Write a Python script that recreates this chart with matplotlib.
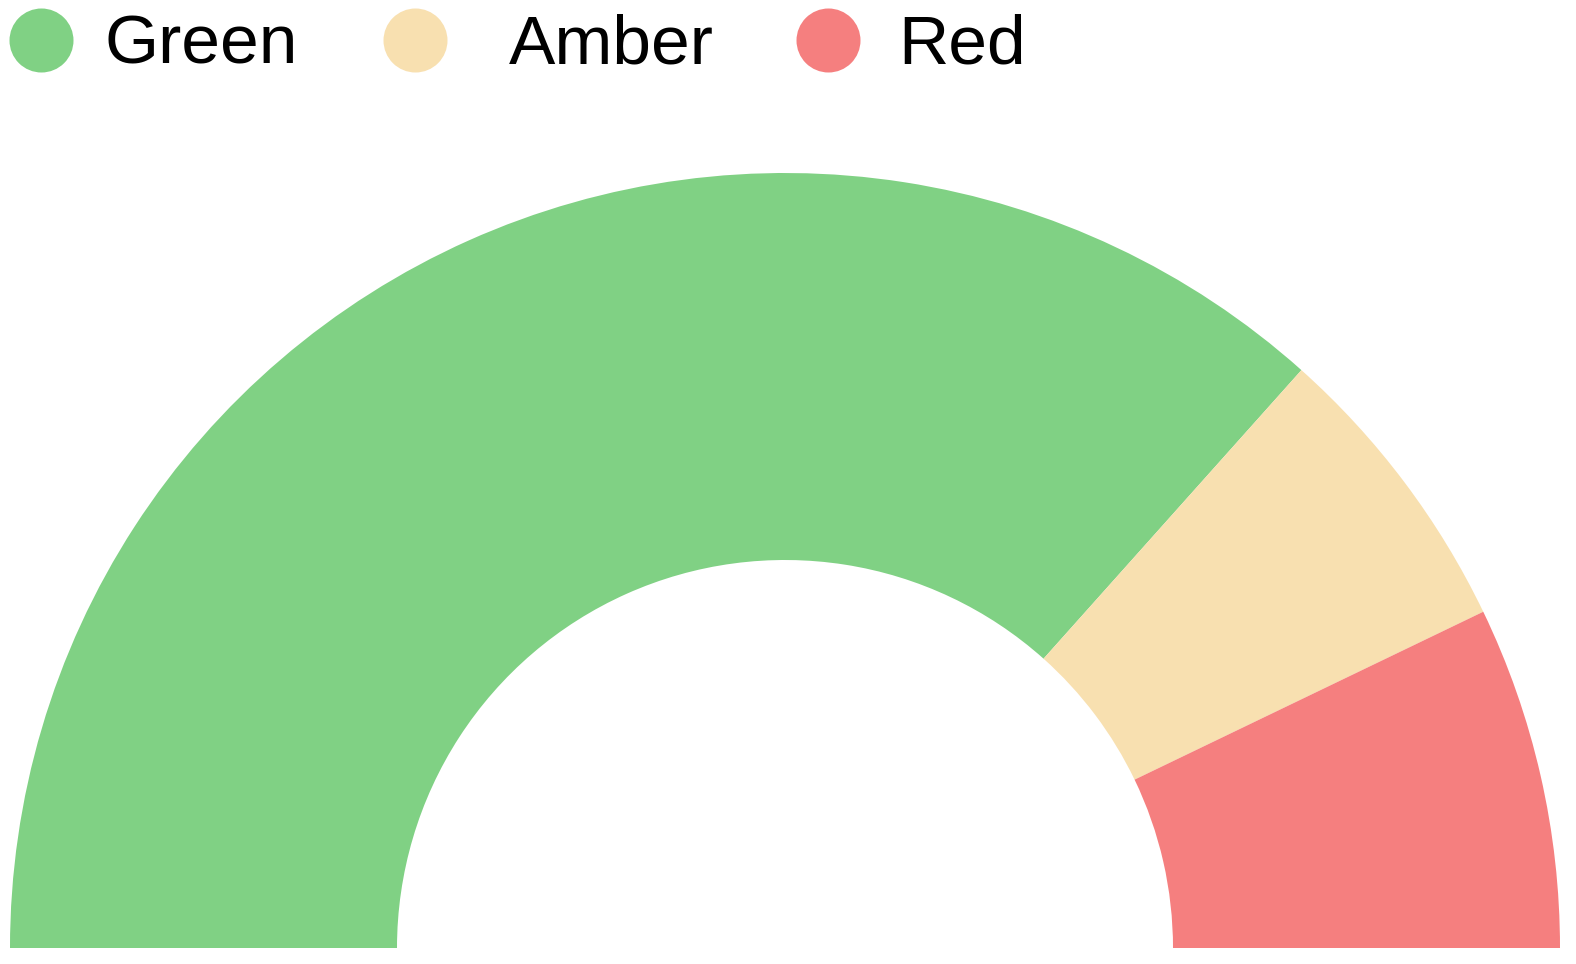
import matplotlib
matplotlib.use("Agg")
import matplotlib.pyplot as plt

# RAG status split (half donut)
labels = ["Green", "Amber", "Red"]
values = [41, 7, 8]
colors = ["#80d184", "#f8e0b0", "#f57f7f"]

plt.rcParams['font.family'] = ['Liberation Sans', 'DejaVu Sans']

W, H = 1576, 964
fig = plt.figure(figsize=(W / 100, H / 100), dpi=100)
ax = fig.add_axes([0, 0, 1, 1])

# pad with an invisible wedge so the visible ones fill the top half
total = sum(values)
ax.pie(values + [total], colors=colors + ["none"], startangle=180,
       counterclock=False, center=(785, 16), radius=775,
       wedgeprops=dict(width=775 - 388, linewidth=0))
ax.set_xlim(0, W)
ax.set_ylim(0, H)
ax.set_aspect("equal")
ax.axis("off")

# legend row along the top, placed by hand (pixel layout)
marker_x = [41, 415, 828]
text_x = [105, 509, 898]
for lab, col, mx, tx in zip(labels, colors, marker_x, text_x):
    ax.scatter([mx], [H - 40], s=64 ** 2 * 0.72 ** 2, color=col, linewidths=0,
               clip_on=False)
    ax.text(tx, H - 64, lab, fontsize=50, va="baseline", ha="left", color="black")

fig.savefig("out.png", dpi=100, facecolor="white")
